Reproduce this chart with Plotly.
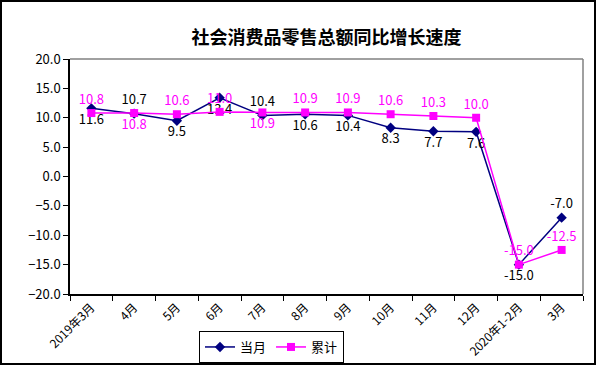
import plotly.graph_objects as go

categories = ["2019年3月", "4月", "5月", "6月", "7月", "8月", "9月", "10月", "11月", "12月", "2020年1-2月", "3月"]
monthly = [11.6, 10.7, 9.5, 13.4, 10.4, 10.6, 10.4, 8.3, 7.7, 7.6, -15.0, -7.0]
cumulative = [10.8, 10.8, 10.6, 11.0, 10.9, 10.9, 10.9, 10.6, 10.3, 10.0, -15.0, -12.5]
y_ticks = [20, 15, 10, 5, 0, -5, -10, -15, -20]

monthly_pos = ["bottom center", "top center", "bottom center", "bottom center", "top center",
               "bottom center", "bottom center", "bottom center", "bottom center", "bottom center",
               "bottom center", "top center"]
cum_pos = ["top center", "bottom center", "top center", "top center", "bottom center",
           "top center", "top center", "top center", "top center", "top center",
           "top center", "top center"]

FONT = "Noto Sans CJK SC"
NAVY = "#000080"
PINK = "#FF00FF"

fig = go.Figure()
fig.add_trace(go.Scatter(
    x=categories, y=monthly, name="当月", mode="lines+markers+text",
    line=dict(color=NAVY, width=1.5),
    marker=dict(symbol="diamond", size=8, color=NAVY),
    text=[f"{v:.1f}" for v in monthly], textposition=monthly_pos,
    textfont=dict(family=FONT, size=13, color="black"),
    cliponaxis=False,
))
fig.add_trace(go.Scatter(
    x=categories, y=cumulative, name="累计", mode="lines+markers+text",
    line=dict(color=PINK, width=1.5),
    marker=dict(symbol="square", size=8, color=PINK),
    text=[f"{v:.1f}" for v in cumulative], textposition=cum_pos,
    textfont=dict(family=FONT, size=13, color=PINK),
    cliponaxis=False,
))

L, R, T, B = 70, 14, 59, 71
W, H = 597, 365
pw, ph = W - L - R, H - T - B

def px_x(p):
    return (p - L) / pw

def px_y(p):
    return (H - B - p) / ph

fig.update_layout(
    width=W, height=H, autosize=False,
    margin=dict(l=L, r=R, t=T, b=B, autoexpand=False),
    paper_bgcolor="white", plot_bgcolor="white",
    font=dict(family=FONT, size=12, color="black"),
    title=dict(text="<b>社会消费品零售总额同比增长速度</b>", x=326.5 / W, xanchor="center",
               y=1 - 38 / H, yanchor="middle", font=dict(family=FONT, size=18, color="black")),
    xaxis=dict(type="category", range=[-0.5, len(categories) - 0.5], tickson="boundaries",
               ticks="outside", ticklen=5, tickcolor="black", showline=True, linecolor="black",
               linewidth=1.5, showgrid=False, tickangle=-45, automargin=False,
               tickfont=dict(family=FONT, size=12)),
    yaxis=dict(range=[-20, 20], tickvals=y_ticks, tickformat=".1f", ticks="outside", ticklen=5,
               tickcolor="black", showline=True, linecolor="black", linewidth=1.5, showgrid=False,
               zeroline=False, automargin=False, tickfont=dict(family=FONT, size=13)),
    legend=dict(orientation="h", x=px_x(199), y=px_y(331), xanchor="left", yanchor="top",
                bordercolor="black", borderwidth=1, bgcolor="white",
                font=dict(family=FONT, size=13), itemwidth=30, tracegroupgap=0),
    showlegend=True,
    shapes=[
        dict(type="line", xref="paper", yref="paper", x0=0, x1=1, y0=1, y1=1,
             line=dict(color="#808080", width=1.5)),
        dict(type="line", xref="paper", yref="paper", x0=1, x1=1, y0=0, y1=1,
             line=dict(color="#808080", width=1.5)),
        dict(type="rect", xref="paper", yref="paper", x0=px_x(1), x1=px_x(595),
             y0=px_y(364), y1=px_y(1), line=dict(color="black", width=2), layer="below"),
    ],
)

fig.write_html("out.html", config={"displayModeBar": False},
               post_script="document.body.style.margin='0';document.body.style.overflow='hidden';")
